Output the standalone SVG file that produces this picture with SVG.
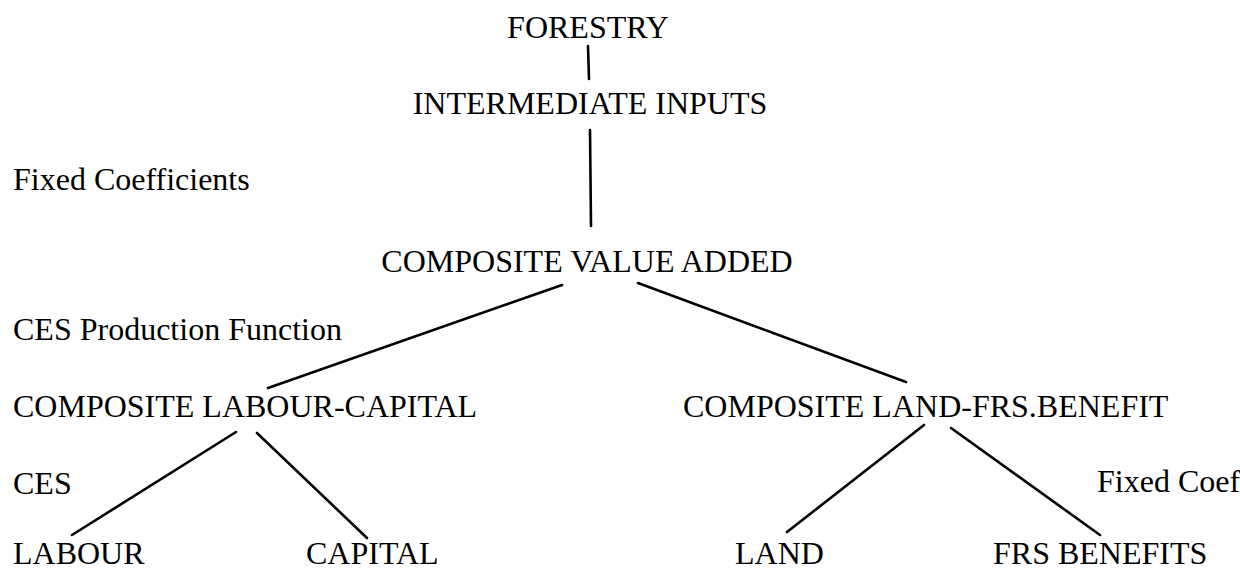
<svg xmlns="http://www.w3.org/2000/svg" width="1240" height="570" viewBox="0 0 1240 570">
<style>
  .t { font-family: "Liberation Serif", "Times New Roman", serif; font-size: 32px; fill: #000; }
  .m { text-anchor: middle; }
  .e { stroke: #000; stroke-width: 2.6; stroke-linecap: round; fill: none; }
</style>
<rect width="1240" height="570" fill="#fff"/>
<g id="connectors">
  <line class="e" x1="588" y1="46" x2="589" y2="79"/>
  <line class="e" x1="590" y1="130" x2="591" y2="226"/>
  <line class="e" x1="562" y1="285" x2="268" y2="388"/>
  <line class="e" x1="638" y1="283" x2="906" y2="382"/>
  <line class="e" x1="236" y1="432" x2="72" y2="535"/>
  <line class="e" x1="257" y1="433" x2="367" y2="538"/>
  <line class="e" x1="924" y1="425" x2="787" y2="532"/>
  <line class="e" x1="951" y1="428" x2="1100" y2="535"/>
</g>
<g id="node-forestry"><text class="t m" x="588" y="38">FORESTRY</text></g>
<g id="node-intermediate-inputs"><text class="t m" x="590" y="114">INTERMEDIATE INPUTS</text></g>
<g id="node-composite-value-added"><text class="t m" x="587" y="272">COMPOSITE VALUE ADDED</text></g>
<g id="node-composite-labour-capital"><text class="t" x="13" y="417">COMPOSITE LABOUR-CAPITAL</text></g>
<g id="node-composite-land-frs"><text class="t" x="683" y="417">COMPOSITE LAND-FRS.BENEFIT</text></g>
<g id="node-labour"><text class="t" x="13" y="564">LABOUR</text></g>
<g id="node-capital"><text class="t" x="306" y="564">CAPITAL</text></g>
<g id="node-land"><text class="t" x="735" y="564">LAND</text></g>
<g id="node-frs-benefits"><text class="t" x="993" y="564">FRS BENEFITS</text></g>
<g id="annotations">
  <text class="t" x="13" y="190">Fixed Coefficients</text>
  <text class="t" x="13" y="340">CES Production Function</text>
  <text class="t" x="13" y="494">CES</text>
  <text class="t" x="1097" y="492">Fixed Coef</text>
</g>
</svg>
